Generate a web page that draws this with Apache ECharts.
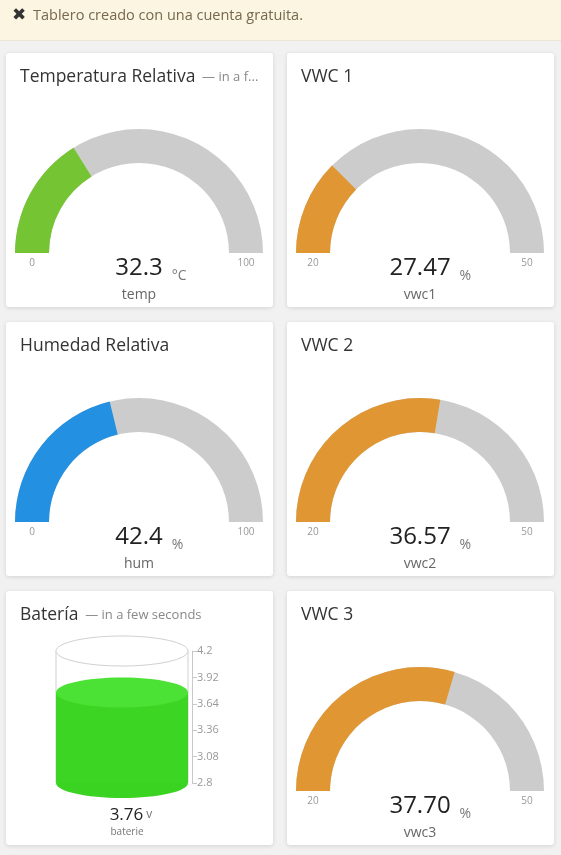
<!DOCTYPE html>
<html>
<head>
<meta charset="utf-8">
<script src="https://cdn.jsdelivr.net/npm/echarts@6/dist/echarts.min.js"></script>
<style>
html,body{margin:0;padding:0;background:#f1f1f1;}
#c{width:561px;height:855px;}
</style>
</head>
<body>
<div id="c"></div>
<script>
// ---- data ----
const bannerText = 'Tablero creado con una cuenta gratuita.';
const gaugeTitles = ['Temperatura Relativa', 'VWC 1', 'Humedad Relativa', 'VWC 2', 'VWC 3'];
const gaugeSubtitles = ['— in a f...', '', '', '', ''];
const gaugeNames = ['temp', 'vwc1', 'hum', 'vwc2', 'vwc3'];
const gaugeValues = [32.3, 27.47, 42.4, 36.57, 37.70];
const gaugeDecimals = [1, 2, 1, 2, 2];
const gaugeMin = [0, 20, 0, 20, 20];
const gaugeMax = [100, 50, 100, 50, 50];
const gaugeUnits = ['°C', '%', '%', '%', '%'];
const batteryTitle = 'Batería';
const batterySubtitle = '— in a few seconds';
const batteryName = 'baterie';
const batteryUnit = 'v';
const batteryValue = [3.76];
const batteryMin = 2.8;
const batteryMax = 4.2;
const batteryInterval = 0.28;
const batteryTickLabels = ['2.8', '3.08', '3.36', '3.64', '3.92', '4.2'];

// ---- styles / layout ----
const FONT = '"Open Sans", "Noto Sans", sans-serif';
const gaugeColors = ['#74c434', '#e09733', '#2390e1', '#e09733', '#e09733'];
const gaugeSlots = [[0, 0], [1, 0], [0, 1], [1, 1], [1, 2]];
const batterySlot = [0, 2];
const colX = [6, 287];
const rowY = [53, 322, 591];
const cardW = 267, cardH = 254;

function measure(text, font) {
  const ctx = document.createElement('canvas').getContext('2d');
  ctx.font = font;
  return ctx.measureText(text).width;
}

const chart = echarts.init(document.getElementById('c'), null, {renderer: 'canvas'});

const graphics = [];
// banner
graphics.push({type: 'rect', shape: {x: 0, y: 0, width: 561, height: 40}, style: {fill: '#fcf5e1'}, z: 0});
graphics.push({type: 'rect', shape: {x: 0, y: 40, width: 561, height: 1}, style: {fill: '#ebe5d5'}, z: 0});
graphics.push({type: 'text', x: 12, y: 16, style: {text: '✖', font: 'bold 17px "DejaVu Sans"', fill: '#333', verticalAlign: 'middle'}, z: 1});
graphics.push({type: 'text', x: 33, y: 16, style: {text: bannerText, font: '14.5px ' + FONT, fill: '#75694f', verticalAlign: 'middle'}, z: 1});

function addCard(col, row, title, sub) {
  const x = colX[col], y = rowY[row];
  graphics.push({type: 'rect', shape: {x: x, y: y, width: cardW, height: cardH, r: 3},
    style: {fill: '#fff', shadowBlur: 4, shadowColor: 'rgba(0,0,0,0.13)', shadowOffsetY: 1}, z: 0});
  graphics.push({type: 'text', x: x + 14, y: y + 24, z: 1,
    style: {text: '{t|' + title + '}' + (sub ? '{s|  ' + sub + '}' : ''), verticalAlign: 'middle',
      rich: {t: {font: '17.5px ' + FONT, fill: '#333'}, s: {font: '13px ' + FONT, fill: '#888'}}}});
  return {x, y};
}

const series = [];
gaugeTitles.forEach((t, i) => {
  const [col, row] = gaugeSlots[i];
  const c = addCard(col, row, t, gaugeSubtitles[i]);
  const cx = c.x + 133, cy = c.y + 200;
  // min / max labels
  graphics.push({type: 'text', x: cx - 107, y: cy + 10, z: 1,
    style: {text: String(gaugeMin[i]), font: '10px ' + FONT, fill: '#999', align: 'center', verticalAlign: 'middle'}});
  graphics.push({type: 'text', x: cx + 107, y: cy + 10, z: 1,
    style: {text: String(gaugeMax[i]), font: '10px ' + FONT, fill: '#999', align: 'center', verticalAlign: 'middle'}});
  const unit = gaugeUnits[i];
  const gap = 9;
  const uw = measure(unit, '14px ' + FONT);
  series.push({
    type: 'gauge', center: [cx, cy], radius: 124, startAngle: 180, endAngle: 0,
    min: gaugeMin[i], max: gaugeMax[i], splitNumber: 1,
    axisLine: {lineStyle: {width: 34, color: [[1, '#cccccc']]}},
    progress: {show: true, width: 34, roundCap: false, itemStyle: {color: gaugeColors[i]}},
    pointer: {show: false}, anchor: {show: false},
    axisTick: {show: false}, splitLine: {show: false}, axisLabel: {show: false},
    title: {offsetCenter: [0, 42], fontSize: 14, color: '#666', fontFamily: FONT},
    detail: {
      offsetCenter: [0, 15], valueAnimation: false, fontWeight: 'normal',
      formatter: (v) => '{p|}{v|' + v.toFixed(gaugeDecimals[i]) + '}{g|}{u|' + unit + '}',
      rich: {
        p: {width: gap + uw, height: 10},
        v: {fontSize: 24, color: '#222', fontFamily: FONT, fontWeight: 'normal', lineHeight: 30},
        g: {width: gap, height: 10},
        u: {fontSize: 14, color: '#777', fontFamily: FONT, fontWeight: 'normal', lineHeight: 27, verticalAlign: 'bottom'}
      }
    },
    data: [{value: gaugeValues[i], name: gaugeNames[i]}]
  });
});

// battery card
const bc = addCard(batterySlot[0], batterySlot[1], batteryTitle, batterySubtitle);
graphics.push({type: 'text', x: 131, y: bc.y + 224, z: 1,
  style: {text: '{v|' + batteryValue[0].toFixed(2) + '}{u| ' + batteryUnit + '}', align: 'center', verticalAlign: 'middle',
    rich: {v: {font: '17px ' + FONT, fill: '#222'}, u: {font: '12px ' + FONT, fill: '#777'}}}});
graphics.push({type: 'text', x: 127, y: bc.y + 241, z: 1,
  style: {text: batteryName, font: '10px ' + FONT, fill: '#777', align: 'center', verticalAlign: 'middle'}});

series.push({
  type: 'custom', coordinateSystem: 'cartesian2d', xAxisIndex: 0, yAxisIndex: 0,
  data: [[0, batteryValue[0]]],
  renderItem: function (params, api) {
    const cs = params.coordSys;
    const rx = cs.width / 2, cx = cs.x + rx, ry = 15;
    const yTop = api.coord([0, api.value(1)])[1];
    const yBase = api.coord([0, batteryMin])[1];
    const yMax = api.coord([0, batteryMax])[1];
    return {
      type: 'group',
      children: [
        {type: 'rect', shape: {x: cs.x, y: yMax, width: cs.width, height: yBase - yMax}, style: {fill: '#fff'}},
        {type: 'line', shape: {x1: cs.x, y1: yMax, x2: cs.x, y2: yBase}, style: {stroke: '#d0d0d0', lineWidth: 1}},
        {type: 'line', shape: {x1: cs.x + cs.width, y1: yMax, x2: cs.x + cs.width, y2: yBase}, style: {stroke: '#d0d0d0', lineWidth: 1}},
        {type: 'ellipse', shape: {cx: cx, cy: yMax, rx: rx, ry: ry}, style: {fill: '#fff', stroke: '#d0d0d0', lineWidth: 1}},
        {type: 'ellipse', shape: {cx: cx, cy: yBase, rx: rx, ry: ry}, style: {fill: '#3bd321'}},
        {type: 'rect', shape: {x: cs.x, y: yTop, width: cs.width, height: yBase - yTop}, style: {fill: '#3dd523'}},
        {type: 'ellipse', shape: {cx: cx, cy: yTop, rx: rx, ry: ry}, style: {fill: '#4be235'}}
      ]
    };
  }
});

chart.setOption({
  animation: false,
  backgroundColor: '#f1f1f1',
  graphic: {elements: graphics},
  grid: {left: 56, width: 132, top: bc.y + 60, height: 132},
  xAxis: {type: 'category', data: [batteryName], show: false},
  yAxis: {
    type: 'value', min: batteryMin, max: batteryMax, interval: batteryInterval, position: 'left',
    offset: -136,
    axisLine: {show: true, lineStyle: {color: '#c8c8c8'}},
    axisTick: {show: true, inside: true, length: 5, lineStyle: {color: '#c8c8c8'}},
    axisLabel: {inside: true, margin: 5, color: '#999', fontSize: 11, fontFamily: FONT,
      verticalAlign: 'middle', padding: [0, 0, 6, 0],
      formatter: (v) => batteryTickLabels.find(s => Math.abs(parseFloat(s) - v) < 1e-6) || ''},
    splitLine: {show: false}
  },
  series: series
});
</script>
</body>
</html>
